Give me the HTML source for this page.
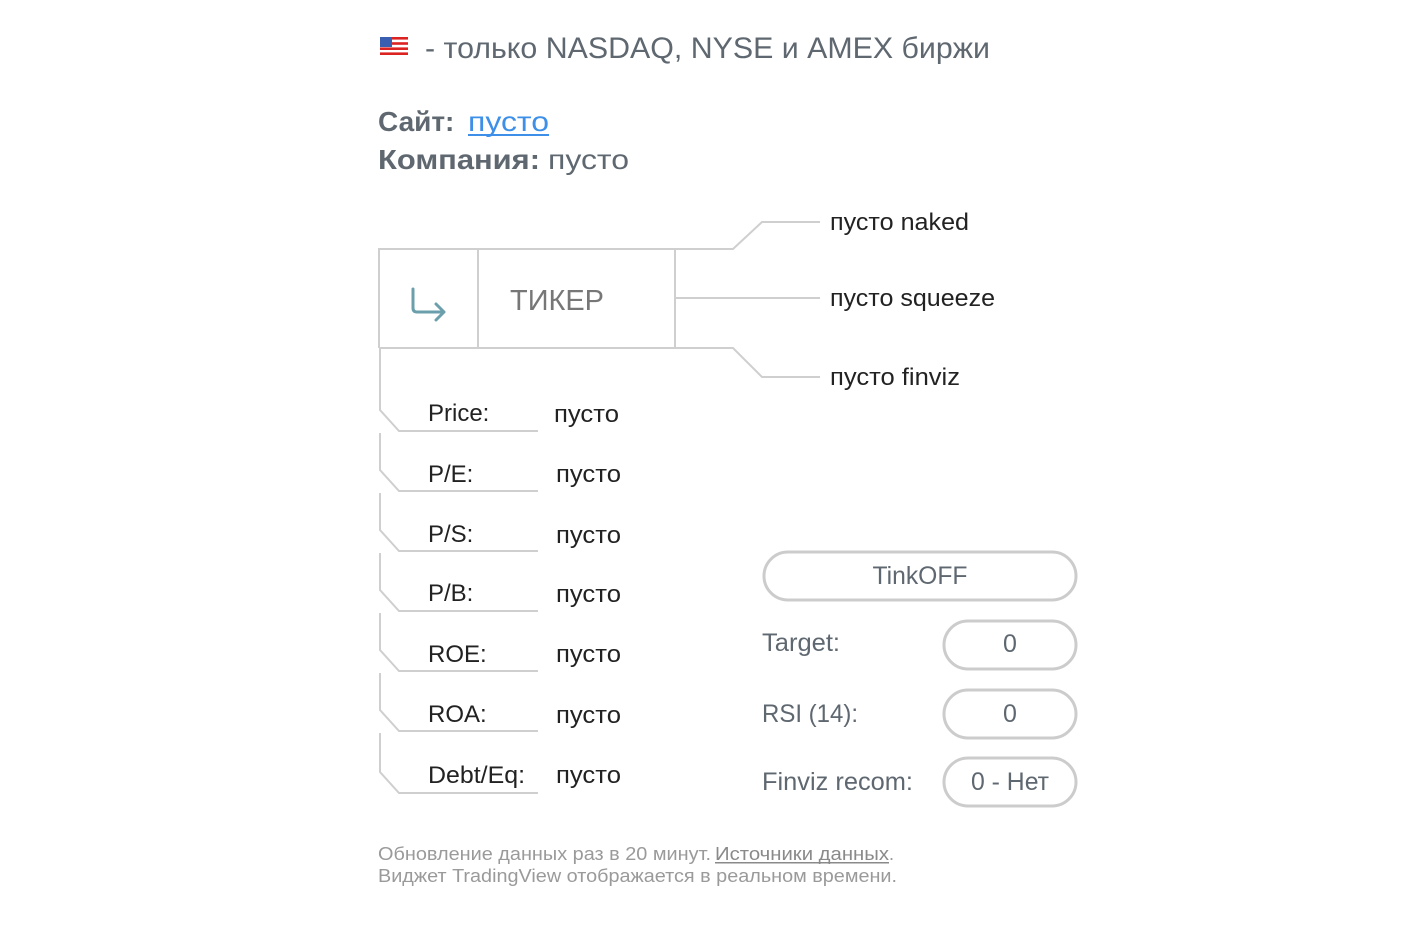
<!DOCTYPE html>
<html><head><meta charset="utf-8"><style>
html,body{margin:0;padding:0;background:#fff;}
svg{display:block;}
text{font-family:"Liberation Sans",sans-serif;}
</style></head><body>
<svg width="1428" height="932" viewBox="0 0 1428 932" xmlns="http://www.w3.org/2000/svg">
<!-- flag -->
<g>
<rect x="380" y="37" width="28" height="18" fill="#fff"/>
<rect x="380" y="37" width="28" height="2.6" fill="#d22"/>
<rect x="380" y="42.2" width="28" height="2.6" fill="#d22"/>
<rect x="380" y="47.4" width="28" height="2.6" fill="#d22"/>
<rect x="380" y="52.4" width="28" height="2.6" fill="#d22"/>
<rect x="380" y="37" width="12" height="10" fill="#3a5fb0"/>
</g>
<text x="425" y="58" font-size="30" fill="#5f6870" textLength="565" lengthAdjust="spacingAndGlyphs">- только NASDAQ, NYSE и AMEX биржи</text>
<text x="378" y="131" font-size="28" fill="#5f6870" font-weight="bold">Сайт:</text>
<text x="468" y="131" font-size="28" fill="#3d8fe8" textLength="81" lengthAdjust="spacingAndGlyphs">пусто</text>
<rect x="468" y="134" width="81" height="2" fill="#3d8fe8"/>
<text x="378" y="169" font-size="28" fill="#5f6870" font-weight="bold" textLength="162" lengthAdjust="spacingAndGlyphs">Компания:</text>
<text x="548" y="169" font-size="28" fill="#5f6870" textLength="81" lengthAdjust="spacingAndGlyphs">пусто</text>

<g fill="none" stroke="#cfcfcf" stroke-width="2">
<path d="M379 348 V249 H733 L762 222 H820"/>
<path d="M379 348 H733 L762 377 H820"/>
<path d="M675 298 H820"/>
<path d="M478 249 V348"/>
<path d="M675 249 V348"/>
<path d="M380 348 V410 L399 431 H538"/>
<path d="M380 433 V470 L399 491 H538"/>
<path d="M380 493 V530 L399 551 H538"/>
<path d="M380 553 V590 L399 611 H538"/>
<path d="M380 613 V650 L399 671 H538"/>
<path d="M380 673 V710 L399 731 H538"/>
<path d="M380 733 V772 L399 793 H538"/>
</g>
<g fill="none" stroke="#6a9fab" stroke-width="3" stroke-linecap="round" stroke-linejoin="round">
<path d="M413 289 V308 Q413 312 417 312 H443"/>
<path d="M436 304 L444 312 L436 320"/>
</g>
<text x="510" y="310" font-size="29" fill="#777" textLength="94" lengthAdjust="spacingAndGlyphs">ТИКЕР</text>

<g font-size="24" fill="#222">
<text x="830" y="230" textLength="139" lengthAdjust="spacingAndGlyphs">пусто naked</text>
<text x="830" y="306" textLength="165" lengthAdjust="spacingAndGlyphs">пусто squeeze</text>
<text x="830" y="385" textLength="130" lengthAdjust="spacingAndGlyphs">пусто finviz</text>
<text x="428" y="421">Price:</text><text x="554" y="422" textLength="65" lengthAdjust="spacingAndGlyphs">пусто</text>
<text x="428" y="482">P/E:</text><text x="556" y="482" textLength="65" lengthAdjust="spacingAndGlyphs">пусто</text>
<text x="428" y="542">P/S:</text><text x="556" y="543" textLength="65" lengthAdjust="spacingAndGlyphs">пусто</text>
<text x="428" y="601">P/B:</text><text x="556" y="602" textLength="65" lengthAdjust="spacingAndGlyphs">пусто</text>
<text x="428" y="662">ROE:</text><text x="556" y="662" textLength="65" lengthAdjust="spacingAndGlyphs">пусто</text>
<text x="428" y="722">ROA:</text><text x="556" y="723" textLength="65" lengthAdjust="spacingAndGlyphs">пусто</text>
<text x="428" y="783" textLength="97" lengthAdjust="spacingAndGlyphs">Debt/Eq:</text><text x="556" y="783" textLength="65" lengthAdjust="spacingAndGlyphs">пусто</text>
</g>

<g fill="none" stroke="#cccccc" stroke-width="3">
<rect x="764" y="552" width="312" height="48" rx="24"/>
<rect x="944" y="621" width="132" height="48" rx="24"/>
<rect x="944" y="690" width="132" height="48" rx="24"/>
<rect x="944" y="758" width="132" height="48" rx="24"/>
</g>
<g font-size="25" fill="#5f6870">
<text x="920" y="584" text-anchor="middle" textLength="95" lengthAdjust="spacingAndGlyphs">TinkOFF</text>
<text x="762" y="651" textLength="78" lengthAdjust="spacingAndGlyphs">Target:</text>
<text x="762" y="722" textLength="96" lengthAdjust="spacingAndGlyphs">RSI (14):</text>
<text x="762" y="790" textLength="151" lengthAdjust="spacingAndGlyphs">Finviz recom:</text>
<text x="1010" y="652" text-anchor="middle">0</text>
<text x="1010" y="722" text-anchor="middle">0</text>
<text x="1010" y="790" text-anchor="middle" textLength="78" lengthAdjust="spacingAndGlyphs">0 - Нет</text>
</g>

<g font-size="18" fill="#9a9a9a">
<text x="378" y="860" textLength="333" lengthAdjust="spacingAndGlyphs">Обновление данных раз в 20 минут.</text>
<text x="715" y="860" textLength="174" lengthAdjust="spacingAndGlyphs" fill="#8a8a8a">Источники данных</text>
<rect x="715" y="862" width="174" height="1.5" fill="#8a8a8a"/>
<text x="889" y="860">.</text>
<text x="378" y="882" textLength="519" lengthAdjust="spacingAndGlyphs">Виджет TradingView отображается в реальном времени.</text>
</g>
</svg>
</body></html>
